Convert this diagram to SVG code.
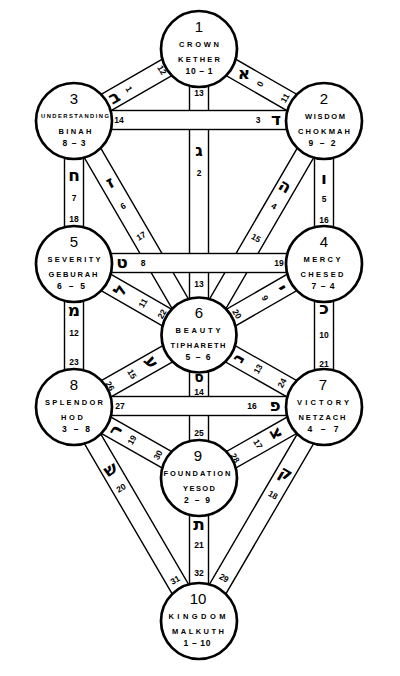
<svg xmlns="http://www.w3.org/2000/svg" width="400" height="676" viewBox="0 0 400 676">
<style>
.band{fill:#fff;stroke:#000;stroke-width:1.4}
.node{fill:#fff;stroke:#000;stroke-width:2.7}
text{fill:#000;text-anchor:middle}
.lb{font-family:'Liberation Sans',Arial,sans-serif;font-weight:bold;font-size:8.5px;dominant-baseline:central}
.hb{font-family:'DejaVu Sans',sans-serif;font-weight:bold;font-size:17px;dominant-baseline:central}
.hs{font-size:14px}
.nn{font-family:'Liberation Sans',Arial,sans-serif;font-size:15px}
.nm{font-family:'Liberation Sans',Arial,sans-serif;font-weight:bold;font-size:7.5px}
.sm{font-size:5.8px}
.nf{font-family:'Liberation Sans',Arial,sans-serif;font-weight:bold;font-size:8.5px}
</style>
<rect width="400" height="676" fill="#fff"/>
<g id="connectors">
<rect class="band" x="0" y="-9.5" width="144.25" height="19" transform="translate(199,49) rotate(29.94)"/>
<rect class="band" x="0" y="-9.5" width="144.25" height="19" transform="translate(199,49) rotate(150.06)"/>
<rect class="band" x="0" y="-9.5" width="287" height="19" transform="translate(199,49) rotate(90)"/>
<rect class="band" x="0" y="-9.5" width="248.7" height="19" transform="translate(324,121) rotate(120.17)"/>
<rect class="band" x="0" y="-9.5" width="143" height="19" transform="translate(324,121) rotate(90)"/>
<rect class="band" x="0" y="-9.5" width="248.7" height="19" transform="translate(74,121) rotate(59.83)"/>
<rect class="band" x="0" y="-9.5" width="143" height="19" transform="translate(74,121) rotate(90)"/>
<rect class="band" x="0" y="-9.5" width="144.25" height="19" transform="translate(324,264) rotate(150.06)"/>
<rect class="band" x="0" y="-9.5" width="143" height="19" transform="translate(324,264) rotate(90)"/>
<rect class="band" x="0" y="-9.5" width="144.25" height="19" transform="translate(74,264) rotate(29.94)"/>
<rect class="band" x="0" y="-9.5" width="143" height="19" transform="translate(74,264) rotate(90)"/>
<rect class="band" x="0" y="-9.5" width="143.76" height="19" transform="translate(199,336) rotate(29.6)"/>
<rect class="band" x="0" y="-9.5" width="142" height="19" transform="translate(199,336) rotate(90)"/>
<rect class="band" x="0" y="-9.5" width="143.76" height="19" transform="translate(199,336) rotate(150.4)"/>
<rect class="band" x="0" y="-9.5" width="143.76" height="19" transform="translate(324,407) rotate(150.4)"/>
<rect class="band" x="0" y="-9.5" width="247.8" height="19" transform="translate(324,407) rotate(120.29)"/>
<rect class="band" x="0" y="-9.5" width="143.76" height="19" transform="translate(74,407) rotate(29.6)"/>
<rect class="band" x="0" y="-9.5" width="247.8" height="19" transform="translate(74,407) rotate(59.71)"/>
<rect class="band" x="0" y="-9.5" width="143" height="19" transform="translate(199,478) rotate(90)"/>
<rect class="band" x="74" y="110.5" width="250" height="19"/>
<rect class="band" x="74" y="253.5" width="250" height="19"/>
<rect class="band" x="74" y="396.5" width="250" height="19"/>
</g>
<g id="node-1"><circle class="node" cx="199" cy="49" r="38"/><text class="nn" x="199" y="32">1</text><text class="nm" x="199" y="47" textLength="40">CROWN</text><text class="nm" x="199" y="62" textLength="42">KETHER</text><text class="nf" x="199" y="74" textLength="27">10 – 1</text></g>
<g id="node-2"><circle class="node" cx="324" cy="121" r="38"/><text class="nn" x="324" y="104">2</text><text class="nm" x="325" y="119" textLength="40">WISDOM</text><text class="nm" x="324" y="134" textLength="52">CHOKMAH</text><text class="nf" x="322" y="146" textLength="27">9 – 2</text></g>
<g id="node-3"><circle class="node" cx="74" cy="121" r="38"/><text class="nn" x="74" y="104">3</text><text class="nm sm" x="75" y="118" textLength="68">UNDERSTANDING</text><text class="nm" x="75" y="134" textLength="33">BINAH</text><text class="nf" x="74" y="146" textLength="23">8 – 3</text></g>
<g id="node-4"><circle class="node" cx="324" cy="264" r="38"/><text class="nn" x="324" y="247">4</text><text class="nm" x="322" y="262" textLength="37">MERCY</text><text class="nm" x="322" y="277" textLength="43">CHESED</text><text class="nf" x="323" y="289" textLength="23">7 – 4</text></g>
<g id="node-5"><circle class="node" cx="74" cy="264" r="38"/><text class="nn" x="74" y="247">5</text><text class="nm" x="74" y="262" textLength="53">SEVERITY</text><text class="nm" x="73" y="277" textLength="49">GEBURAH</text><text class="nf" x="71" y="289" textLength="28">6 – 5</text></g>
<g id="node-6"><circle class="node" cx="199" cy="335" r="37.5"/><text class="nn" x="199" y="318">6</text><text class="nm" x="198" y="333" textLength="45">BEAUTY</text><text class="nm" x="198" y="348" textLength="55">TIPHARETH</text><text class="nf" x="198" y="360" textLength="25">5 – 6</text></g>
<g id="node-7"><circle class="node" cx="324" cy="407" r="38"/><text class="nn" x="323" y="390">7</text><text class="nm" x="323" y="405" textLength="52">VICTORY</text><text class="nm" x="322" y="420" textLength="47">NETZACH</text><text class="nf" x="323" y="432" textLength="31">4 – 7</text></g>
<g id="node-8"><circle class="node" cx="74" cy="407" r="38"/><text class="nn" x="74" y="390">8</text><text class="nm" x="74" y="405" textLength="58">SPLENDOR</text><text class="nm" x="72" y="420" textLength="22">HOD</text><text class="nf" x="76" y="432" textLength="28">3 – 8</text></g>
<g id="node-9"><circle class="node" cx="199" cy="478" r="38"/><text class="nn" x="198" y="461">9</text><text class="nm" x="197" y="476" textLength="67">FOUNDATION</text><text class="nm" x="199" y="491" textLength="32">YESOD</text><text class="nf" x="197" y="503" textLength="26">2 – 9</text></g>
<g id="node-10"><circle class="node" cx="199" cy="621" r="38"/><text class="nn" x="198" y="604">10</text><text class="nm" x="197" y="619" textLength="57">KINGDOM</text><text class="nm" x="198" y="634" textLength="52">MALKUTH</text><text class="nf" x="197" y="646" textLength="27">1 – 10</text></g>
<g id="connector-labels">
<text class="hb" x="244" y="73">א</text>
<text class="lb" x="260" y="84" transform="rotate(-60,260,84)">0</text>
<text class="lb" x="285" y="98" transform="rotate(-60,285,98)">11</text>
<text class="lb" x="162" y="70" transform="rotate(60,162,70)">12</text>
<text class="lb" x="129" y="89" transform="rotate(60,129,89)">1</text>
<text class="hb" x="114" y="97" transform="rotate(-30,114,97)">ב</text>
<text class="lb" x="199" y="93">13</text>
<text class="hb" x="199" y="150">ג</text>
<text class="lb" x="199" y="173">2</text>
<text class="lb" x="199" y="284">13</text>
<text class="lb" x="119" y="120">14</text>
<text class="lb" x="258" y="120">3</text>
<text class="hb" x="276" y="119">ד</text>
<text class="hb" x="285" y="186" transform="rotate(30,285,186)">ה</text>
<text class="lb" x="274" y="206" transform="rotate(30,274,206)">4</text>
<text class="lb" x="256" y="238" transform="rotate(30,256,238)">15</text>
<text class="hb" x="324" y="178">ו</text>
<text class="lb" x="324" y="199">5</text>
<text class="lb" x="324" y="220">16</text>
<text class="hb" x="110" y="182" transform="rotate(-30,110,182)">ז</text>
<text class="lb" x="123" y="206" transform="rotate(-30,123,206)">6</text>
<text class="lb" x="141" y="236" transform="rotate(-30,141,236)">17</text>
<text class="hb" x="74" y="175">ח</text>
<text class="lb" x="74" y="198">7</text>
<text class="lb" x="74" y="219">18</text>
<text class="hb" x="122" y="262">ט</text>
<text class="lb" x="143" y="263">8</text>
<text class="lb" x="279" y="263">19</text>
<text class="hb" x="282" y="288" transform="rotate(60,282,288)">י</text>
<text class="lb" x="265" y="298" transform="rotate(60,265,298)">9</text>
<text class="lb" x="237" y="314" transform="rotate(60,237,314)">20</text>
<text class="hb" x="324" y="308">כ</text>
<text class="lb" x="324" y="335">10</text>
<text class="lb" x="324" y="364">21</text>
<text class="hb" x="120" y="290" transform="rotate(-60,120,290)">ל</text>
<text class="lb" x="143" y="303" transform="rotate(-60,143,303)">11</text>
<text class="lb" x="162" y="314" transform="rotate(-60,162,314)">22</text>
<text class="hb" x="74" y="310">מ</text>
<text class="lb" x="74" y="333">12</text>
<text class="lb" x="74" y="362">23</text>
<text class="hb" x="238" y="358" transform="rotate(-60,238,358)">נ</text>
<text class="lb" x="258" y="369" transform="rotate(-60,258,369)">13</text>
<text class="lb" x="282" y="383" transform="rotate(-60,282,383)">24</text>
<text class="hb hs" x="199" y="377">ס</text>
<text class="lb" x="199" y="391.5">14</text>
<text class="lb" x="199" y="433">25</text>
<text class="hb" x="152" y="362" transform="rotate(60,152,362)">ע</text>
<text class="lb" x="132" y="374" transform="rotate(60,132,374)">15</text>
<text class="lb" x="110" y="386" transform="rotate(60,110,386)">26</text>
<text class="lb" x="120" y="406">27</text>
<text class="lb" x="252" y="406">16</text>
<text class="hb" x="275" y="405">פ</text>
<text class="hb" x="277" y="433" transform="rotate(60,277,433)">צ</text>
<text class="lb" x="258" y="444" transform="rotate(60,258,444)">17</text>
<text class="lb" x="235" y="458" transform="rotate(60,235,458)">28</text>
<text class="hb" x="286" y="473" transform="rotate(30,286,473)">ק</text>
<text class="lb" x="273" y="495" transform="rotate(30,273,495)">18</text>
<text class="lb" x="224" y="578" transform="rotate(30,224,578)">29</text>
<text class="hb" x="115" y="430" transform="rotate(-60,115,430)">ר</text>
<text class="lb" x="132" y="440" transform="rotate(-60,132,440)">19</text>
<text class="lb" x="158" y="455" transform="rotate(-60,158,455)">30</text>
<text class="hb" x="110" y="469" transform="rotate(-30,110,469)">ש</text>
<text class="lb" x="121" y="488" transform="rotate(-30,121,488)">20</text>
<text class="lb" x="175" y="580" transform="rotate(-30,175,580)">31</text>
<text class="hb" x="199" y="524">ת</text>
<text class="lb" x="199" y="545">21</text>
<text class="lb" x="199" y="573">32</text>
</g>
</svg>
